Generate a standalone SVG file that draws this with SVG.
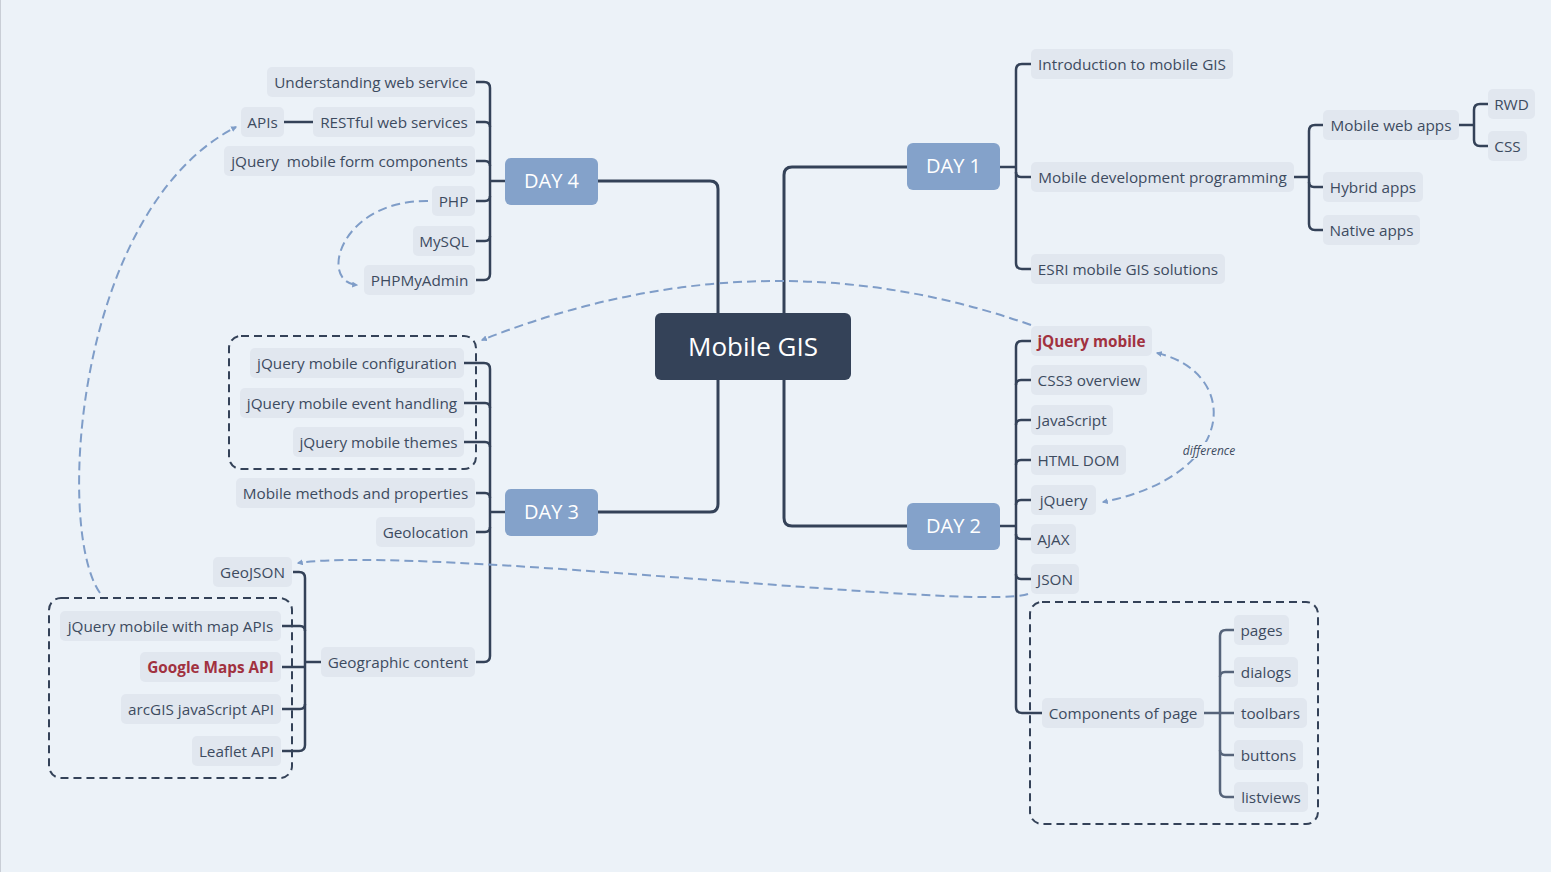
<svg xmlns="http://www.w3.org/2000/svg" width="1551" height="872" viewBox="0 0 1551 872">
<defs>
<style>
.bg{fill:#ECF2F8}
.n{fill:#E1E7EF}
.t{font-family:"Open Sans","Noto Sans",sans-serif;font-size:15.3px;fill:#3D4B5F;text-anchor:middle}
.red{fill:#A1313F;font-weight:bold}
.day{fill:#84A2CA}
.dt{font-family:"Open Sans","Noto Sans",sans-serif;font-size:20px;fill:#FFFFFF;text-anchor:middle}
.main{fill:none;stroke:#344258;stroke-width:3;stroke-linejoin:round}
.c{fill:none;stroke:#344258;stroke-width:2.5}
.c2{fill:none;stroke:#56647A;stroke-width:2.5}
.box{fill:none;stroke:#344258;stroke-width:2;stroke-dasharray:8 5}
.r{fill:none;stroke:#7F9DC8;stroke-width:2;stroke-dasharray:9 5}
</style>
<marker id="ah" viewBox="0 0 10 10" refX="8" refY="5" markerWidth="6" markerHeight="6" orient="auto-start-reverse" markerUnits="userSpaceOnUse">
<path d="M0,0 L10,5 L0,10 Z" fill="#7F9DC8"/>
</marker>
</defs>
<rect class="bg" x="0" y="0" width="1551" height="872"/>
<line x1="0.5" y1="0" x2="0.5" y2="872" stroke="#C9CED6" stroke-width="1"/>

<g id="connectors">
<path class="main" d="M718,313 V189 Q718,181 710,181 H598"/>
<path class="main" d="M784,313 V175 Q784,167 792,167 H907"/>
<path class="main" d="M718,380 V504 Q718,512 710,512 H598"/>
<path class="main" d="M784,380 V518 Q784,526 792,526 H907"/>
<path class="c" d="M476,82 H484 Q490,82 490,88 V274 Q490,280 484,280 H476"/>
<path class="c" d="M476,122 H485 Q490,122 490,127"/>
<path class="c" d="M476,161 H485 Q490,161 490,166"/>
<path class="c" d="M476,201 H485 Q490,201 490,196"/>
<path class="c" d="M476,241 H485 Q490,241 490,236"/>
<path class="c" d="M490,181 H505"/>
<path class="c" d="M284,122 H313"/>
<path class="c" d="M464,363 H484 Q490,363 490,369 V656 Q490,662 484,662 H476"/>
<path class="c" d="M464,403 H485 Q490,403 490,408"/>
<path class="c" d="M464,442 H485 Q490,442 490,447"/>
<path class="c" d="M476,493 H485 Q490,493 490,498"/>
<path class="c" d="M476,532 H485 Q490,532 490,527"/>
<path class="c" d="M490,512 H505"/>
<path class="c" d="M293,572 H299 Q305,572 305,578 V745 Q305,751 299,751 H282"/>
<path class="c" d="M282,626 H300 Q305,626 305,631"/>
<path class="c" d="M282,667 H305"/>
<path class="c" d="M282,709 H300 Q305,709 305,704"/>
<path class="c" d="M305,662 H321"/>
<path class="c" d="M1031,64 H1022 Q1016,64 1016,70 V263 Q1016,269 1022,269 H1031"/>
<path class="c" d="M1031,177 H1021 Q1016,177 1016,172"/>
<path class="c" d="M1000,167 H1016"/>
<path class="c" d="M1323,125 H1315 Q1309,125 1309,131 V224 Q1309,230 1315,230 H1323"/>
<path class="c" d="M1323,187 H1314 Q1309,187 1309,182"/>
<path class="c" d="M1294,177 H1309"/>
<path class="c" d="M1488,104 H1480 Q1474,104 1474,110 V140 Q1474,146 1480,146 H1488"/>
<path class="c" d="M1459,125 H1474"/>
<path class="c" d="M1031,341 H1022 Q1016,341 1016,347 V707 Q1016,713 1022,713 H1042"/>
<path class="c" d="M1031,380 H1021 Q1016,380 1016,385"/>
<path class="c" d="M1031,420 H1021 Q1016,420 1016,425"/>
<path class="c" d="M1031,460 H1021 Q1016,460 1016,465"/>
<path class="c" d="M1031,500 H1021 Q1016,500 1016,505"/>
<path class="c" d="M1031,539 H1021 Q1016,539 1016,534"/>
<path class="c" d="M1031,579 H1021 Q1016,579 1016,574"/>
<path class="c" d="M1000,526 H1016"/>
<path class="c2" d="M1234,630 H1226 Q1220,630 1220,636 V791 Q1220,797 1226,797 H1234"/>
<path class="c2" d="M1234,672 H1225 Q1220,672 1220,677"/>
<path class="c2" d="M1204,713 H1234"/>
<path class="c2" d="M1234,755 H1225 Q1220,755 1220,750"/>
<path class="r" d="M1031,325 Q760,230 482,340" marker-end="url(#ah)"/>
<path class="r" d="M1028,594 C980,612 420,545 298,563" marker-end="url(#ah)"/>
<path class="r" d="M100,593 C55,530 75,210 236,127" marker-end="url(#ah)"/>
<path class="r" d="M428,201 C340,200 318,282 357,285" marker-end="url(#ah)"/>
<path class="r" d="M1157,353 C1240,372 1240,475 1103,502" marker-start="url(#ah)" marker-end="url(#ah)"/>
<rect class="bg" x="1180" y="442" width="60" height="17"/>
<text x="1209" y="455" font-family="Open Sans, Noto Sans, sans-serif" font-size="12" font-style="italic" fill="#3D4B5F" text-anchor="middle">difference</text>
</g>

<rect class="box" x="229" y="336" width="247" height="133" rx="12"/>
<rect class="box" x="49" y="598" width="243" height="180" rx="12"/>
<rect class="box" x="1030" y="602" width="288" height="222" rx="12"/>

<g id="center"><rect x="655" y="313" width="196" height="67" rx="6" fill="#344258"/><text x="753" y="356" font-family="Open Sans, Noto Sans, sans-serif" font-size="26" fill="#FFFFFF" text-anchor="middle">Mobile GIS</text></g>

<g id="day4"><rect class="day" x="505" y="158" width="93" height="47" rx="6"/><text class="dt" x="551.5" y="188">DAY 4</text></g>
<g id="day1"><rect class="day" x="907" y="143" width="93" height="47" rx="6"/><text class="dt" x="953.5" y="173">DAY 1</text></g>
<g id="day3"><rect class="day" x="505" y="489" width="93" height="47" rx="6"/><text class="dt" x="551.5" y="519">DAY 3</text></g>
<g id="day2"><rect class="day" x="907" y="503" width="93" height="47" rx="6"/><text class="dt" x="953.5" y="533">DAY 2</text></g>

<g id="n-understanding"><rect class="n" x="267" y="67" width="208" height="30" rx="5"/><text class="t" x="371" y="87.5">Understanding web service</text></g>
<g id="n-restful"><rect class="n" x="313" y="107" width="162" height="30" rx="5"/><text class="t" x="394" y="127.5">RESTful web services</text></g>
<g id="n-apis"><rect class="n" x="241" y="107" width="43" height="30" rx="5"/><text class="t" x="262.5" y="127.5">APIs</text></g>
<g id="n-jqform"><rect class="n" x="224" y="146" width="251" height="30" rx="5"/><text class="t" x="349.5" y="166.5" style="white-space:pre">jQuery  mobile form components</text></g>
<g id="n-php"><rect class="n" x="432" y="186" width="43" height="30" rx="5"/><text class="t" x="453.5" y="206.5">PHP</text></g>
<g id="n-mysql"><rect class="n" x="413" y="226" width="62" height="30" rx="5"/><text class="t" x="444" y="246.5">MySQL</text></g>
<g id="n-phpmyadmin"><rect class="n" x="364" y="265" width="111" height="30" rx="5"/><text class="t" x="419.5" y="285.5">PHPMyAdmin</text></g>

<g id="n-intro"><rect class="n" x="1031" y="49" width="202" height="30" rx="5"/><text class="t" x="1132" y="69.5">Introduction to mobile GIS</text></g>
<g id="n-mdp"><rect class="n" x="1031" y="162" width="263" height="30" rx="5"/><text class="t" x="1162.5" y="182.5">Mobile development programming</text></g>
<g id="n-esri"><rect class="n" x="1031" y="254" width="194" height="30" rx="5"/><text class="t" x="1128" y="274.5">ESRI mobile GIS solutions</text></g>
<g id="n-mwa"><rect class="n" x="1323" y="110" width="136" height="30" rx="5"/><text class="t" x="1391" y="130.5">Mobile web apps</text></g>
<g id="n-hybrid"><rect class="n" x="1323" y="172" width="100" height="30" rx="5"/><text class="t" x="1373" y="192.5">Hybrid apps</text></g>
<g id="n-native"><rect class="n" x="1323" y="215" width="97" height="30" rx="5"/><text class="t" x="1371.5" y="235.5">Native apps</text></g>
<g id="n-rwd"><rect class="n" x="1488" y="89" width="47" height="30" rx="5"/><text class="t" x="1511.5" y="109.5">RWD</text></g>
<g id="n-css"><rect class="n" x="1488" y="131" width="39" height="30" rx="5"/><text class="t" x="1507.5" y="151.5">CSS</text></g>

<g id="n-jqm"><rect class="n" x="1031" y="326" width="121" height="30" rx="5"/><text class="t red" x="1091.5" y="346.5">jQuery mobile</text></g>
<g id="n-css3"><rect class="n" x="1031" y="365" width="116" height="30" rx="5"/><text class="t" x="1089" y="385.5">CSS3 overview</text></g>
<g id="n-js"><rect class="n" x="1031" y="405" width="82" height="30" rx="5"/><text class="t" x="1072" y="425.5">JavaScript</text></g>
<g id="n-dom"><rect class="n" x="1031" y="445" width="95" height="30" rx="5"/><text class="t" x="1078.5" y="465.5">HTML DOM</text></g>
<g id="n-jquery"><rect class="n" x="1031" y="485" width="65" height="30" rx="5"/><text class="t" x="1063.5" y="505.5">jQuery</text></g>
<g id="n-ajax"><rect class="n" x="1031" y="524" width="45" height="30" rx="5"/><text class="t" x="1053.5" y="544.5">AJAX</text></g>
<g id="n-json"><rect class="n" x="1031" y="564" width="48" height="30" rx="5"/><text class="t" x="1055" y="584.5">JSON</text></g>
<g id="n-comp"><rect class="n" x="1042" y="698" width="162" height="30" rx="5"/><text class="t" x="1123" y="718.5">Components of page</text></g>
<g id="n-pages"><rect class="n" x="1234" y="615" width="55" height="30" rx="5"/><text class="t" x="1261.5" y="635.5">pages</text></g>
<g id="n-dialogs"><rect class="n" x="1234" y="657" width="64" height="30" rx="5"/><text class="t" x="1266" y="677.5">dialogs</text></g>
<g id="n-toolbars"><rect class="n" x="1234" y="698" width="73" height="30" rx="5"/><text class="t" x="1270.5" y="718.5">toolbars</text></g>
<g id="n-buttons"><rect class="n" x="1234" y="740" width="69" height="30" rx="5"/><text class="t" x="1268.5" y="760.5">buttons</text></g>
<g id="n-listviews"><rect class="n" x="1234" y="782" width="74" height="30" rx="5"/><text class="t" x="1271" y="802.5">listviews</text></g>

<g id="n-jqconf"><rect class="n" x="250" y="348" width="214" height="30" rx="5"/><text class="t" x="357" y="368.5">jQuery mobile configuration</text></g>
<g id="n-jqevent"><rect class="n" x="240" y="388" width="224" height="30" rx="5"/><text class="t" x="352" y="408.5">jQuery mobile event handling</text></g>
<g id="n-jqthemes"><rect class="n" x="293" y="427" width="171" height="30" rx="5"/><text class="t" x="378.5" y="447.5">jQuery mobile themes</text></g>
<g id="n-methods"><rect class="n" x="236" y="478" width="239" height="30" rx="5"/><text class="t" x="355.5" y="498.5">Mobile methods and properties</text></g>
<g id="n-geoloc"><rect class="n" x="376" y="517" width="99" height="30" rx="5"/><text class="t" x="425.5" y="537.5">Geolocation</text></g>
<g id="n-geocontent"><rect class="n" x="321" y="647" width="154" height="30" rx="5"/><text class="t" x="398" y="667.5">Geographic content</text></g>
<g id="n-geojson"><rect class="n" x="213" y="557" width="79" height="30" rx="5"/><text class="t" x="252.5" y="577.5">GeoJSON</text></g>
<g id="n-jqmap"><rect class="n" x="60" y="611" width="221" height="30" rx="5"/><text class="t" x="170.5" y="631.5">jQuery mobile with map APIs</text></g>
<g id="n-google"><rect class="n" x="140" y="652" width="141" height="30" rx="5"/><text class="t red" x="210.5" y="672.5">Google Maps API</text></g>
<g id="n-arcgis"><rect class="n" x="121" y="694" width="160" height="30" rx="5"/><text class="t" x="201" y="714.5">arcGIS javaScript API</text></g>
<g id="n-leaflet"><rect class="n" x="192" y="736" width="89" height="30" rx="5"/><text class="t" x="236.5" y="756.5">Leaflet API</text></g>
</svg>
